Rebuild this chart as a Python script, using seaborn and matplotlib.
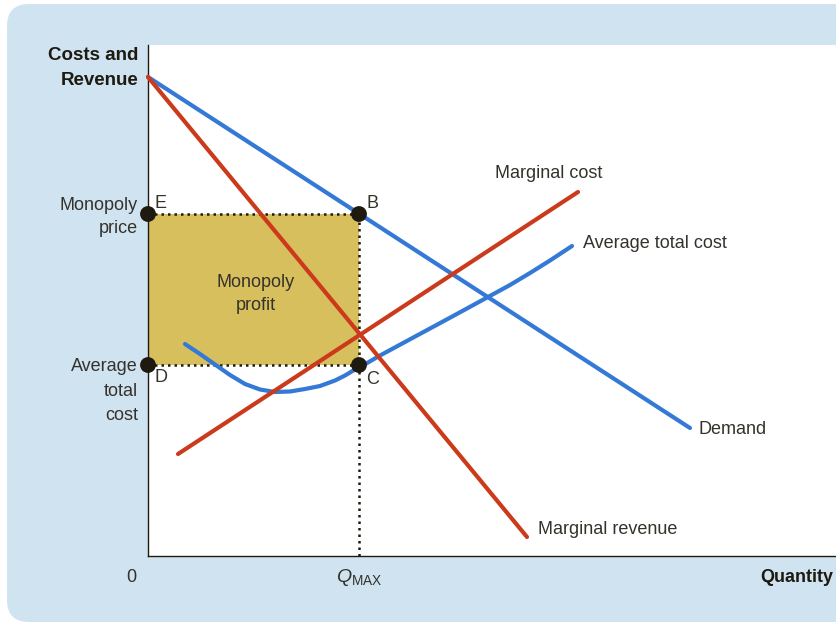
## Monopoly diagram: demand, marginal revenue, marginal cost, average total cost
import pandas as pd
import matplotlib.pyplot as plt
import seaborn as sns
from matplotlib.patches import FancyBboxPatch, Rectangle
from matplotlib.transforms import IdentityTransform

## Curve data (quantity, cost/revenue)
demand_q = [0.0, 54.2]
demand_p = [47.9, 12.8]
mr_q = [0.0, 37.9]
mr_p = [47.9, 1.9]
mc_q = [3.0, 43.0]
mc_p = [10.2, 36.4]
atc_q = [3.7, 5.2, 6.7, 8.2, 9.7, 11.2, 12.7, 14.2, 15.7, 17.2, 18.7, 19.7, 20.7,
         22.0, 23.2, 25.7, 28.2, 30.7, 34.0, 36.2, 38.2, 40.2, 42.4]
atc_p = [21.2, 20.2, 19.15, 18.1, 17.2, 16.65, 16.4, 16.45, 16.7, 17.0, 17.55, 18.05, 18.65,
         19.35, 20.05, 21.4, 22.75, 24.1, 25.9, 27.1, 28.3, 29.55, 31.0]

q_max = 21.1
monopoly_price = 34.2
avg_total_cost = 19.1
point_q = [0.0, q_max, 0.0, q_max]
point_p = [monopoly_price, monopoly_price, avg_total_cost, avg_total_cost]

blue = "#3479D6"
red = "#CC3A1C"
gold = "#D8BF5E"
ink = "#34322B"
dark = "#1E1A10"

sns.set_style("white")
plt.rcParams['font.family'] = ['Liberation Sans Narrow', 'Liberation Sans', 'DejaVu Sans']
plt.rcParams['mathtext.fontset'] = 'custom'
plt.rcParams['mathtext.it'] = 'Liberation Sans:italic'
plt.rcParams['mathtext.rm'] = 'Liberation Sans'

fig = plt.figure(figsize=(8.36, 6.26), dpi=100)
fig.patch.set_facecolor("white")
# light blue rounded panel behind everything (pixel coords)
panel = FancyBboxPatch((7, 4), 880, 618, boxstyle="round,pad=0,rounding_size=22",
                       transform=IdentityTransform(), facecolor="#D0E3F0",
                       edgecolor="none", zorder=-5)
fig.patches.append(panel)

ax = fig.add_axes([148 / 836, 70 / 626, 688 / 836, 511 / 626])
ax.set_facecolor("white")
ax.set_xlim(0, 68.8)
ax.set_ylim(0, 51.1)
for s in ["top", "right"]:
    ax.spines[s].set_visible(False)
for s in ["left", "bottom"]:
    ax.spines[s].set_color(dark)
    ax.spines[s].set_linewidth(1.0)
ax.set_xticks([])
ax.set_yticks([])

# profit rectangle + dotted guides
ax.add_patch(Rectangle((0, avg_total_cost), q_max, monopoly_price - avg_total_cost,
                       facecolor=gold, edgecolor="none", zorder=1))
ax.plot([0, q_max], [monopoly_price, monopoly_price], ls=(0, (1, 1.6)), color=dark, lw=1.8, zorder=2)
ax.plot([0, q_max], [avg_total_cost, avg_total_cost], ls=(0, (1, 1.6)), color=dark, lw=1.8, zorder=2)
ax.plot([q_max, q_max], [0, monopoly_price], ls=(0, (1, 1.6)), color=dark, lw=1.8, zorder=2)

lw = 3.0
curves = [(atc_q, atc_p, blue), (demand_q, demand_p, blue), (mc_q, mc_p, red), (mr_q, mr_p, red)]
for q, p, c in curves:
    df = pd.DataFrame({"q": q, "p": p})
    sns.lineplot(data=df, x="q", y="p", color=c, lw=lw, sort=False, ax=ax,
                 solid_capstyle="round", solid_joinstyle="round", zorder=3, clip_on=False)

pts = pd.DataFrame({"q": point_q, "p": point_p})
sns.scatterplot(data=pts, x="q", y="p", color=dark, s=130, edgecolor="none",
                ax=ax, zorder=5, clip_on=False)
ax.set_xlabel("")
ax.set_ylabel("")

fs = 13
# point letters
ax.text(0.7, 35.2, "E", fontsize=fs, color=ink, ha="left", va="center")
ax.text(21.8, 35.2, "B", fontsize=fs, color=ink, ha="left", va="center")
ax.text(0.7, 17.8, "D", fontsize=fs, color=ink, ha="left", va="center")
ax.text(21.8, 17.6, "C", fontsize=fs, color=ink, ha="left", va="center")

ax.text(10.8, 26.2, "Monopoly\nprofit", fontsize=fs, color=ink, ha="center", va="center",
        linespacing=1.4)

# curve labels
ax.text(34.7, 38.2, "Marginal cost", fontsize=fs, color=ink, ha="left", va="center")
ax.text(43.5, 31.2, "Average total cost", fontsize=fs, color=ink, ha="left", va="center")
ax.text(55.0, 12.7, "Demand", fontsize=fs, color=ink, ha="left", va="center")
ax.text(39.0, 2.7, "Marginal revenue", fontsize=fs, color=ink, ha="left", va="center")

# axis labels outside the plot
ax.text(-1.0, 48.8, "Costs and\nRevenue", fontsize=fs + 0.5, color=dark, fontweight="bold",
        ha="right", va="center", linespacing=1.55, clip_on=False)
ax.text(-1.0, 33.9, "Monopoly\nprice", fontsize=fs, color=ink, ha="right", va="center",
        linespacing=1.5, clip_on=False)
ax.text(-1.0, 16.5, "Average\ntotal\ncost", fontsize=fs, color=ink, ha="right", va="center",
        linespacing=1.55, clip_on=False)
ax.text(-1.7, -2.1, "0", fontsize=fs, color=ink, ha="center", va="center", clip_on=False)
ax.text(q_max, -2.1, r"$\mathit{Q}_{\mathrm{MAX}}$", fontsize=fs + 1, color=ink,
        ha="center", va="center", clip_on=False)
ax.text(61.2, -2.1, "Quantity", fontsize=fs, color=dark, fontweight="bold",
        ha="left", va="center", clip_on=False)

fig.savefig("out.png", dpi=100)
